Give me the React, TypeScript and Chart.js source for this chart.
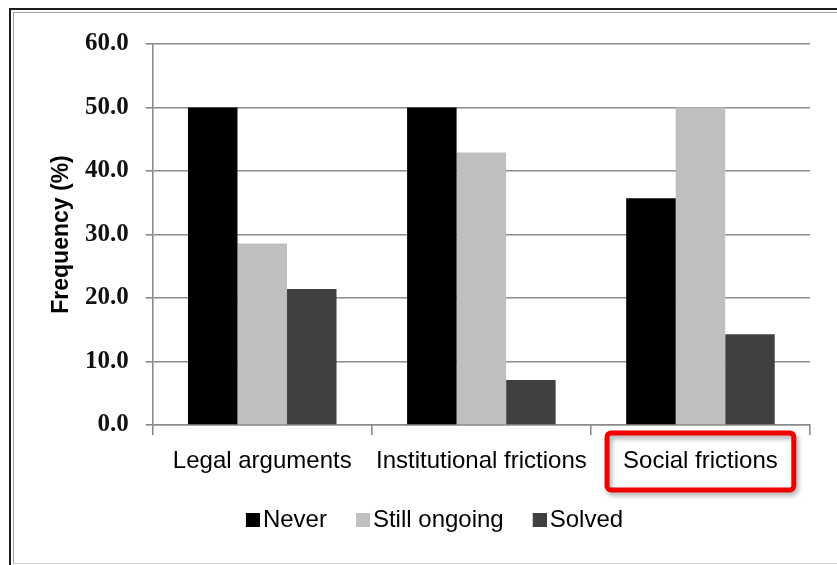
import React, { useEffect, useRef } from "react";
import { Chart, registerables } from "chart.js";

Chart.register(...registerables);

// Share of cases per outcome (%), one value per category
const categories = ["Legal arguments", "Institutional frictions", "Social frictions"];
const seriesNames = ["Never", "Still ongoing", "Solved"];
const never = [50.0, 50.0, 35.7];
const stillOngoing = [28.6, 42.9, 50.0];
const solved = [21.4, 7.1, 14.3];
const seriesColors = ["#000000", "#bfbfbf", "#404040"];
const yTicks = [0, 10, 20, 30, 40, 50, 60];
const highlightCategory = "Social frictions";

const LABEL_FONT = "'Liberation Sans', Arial, sans-serif";
const TICK_FONT = "'Liberation Serif', 'Times New Roman', serif";
const GRID = "#8a8a8a";

// Legend swatch: a 14px square placed at the right edge of a wider image,
// so that it sits close to its label text.
function makeSwatch(color: string): HTMLCanvasElement {
  const c = document.createElement("canvas");
  c.width = 20;
  c.height = 14;
  const g = c.getContext("2d")!;
  g.fillStyle = color;
  g.fillRect(6, 0, 14, 14);
  return c;
}

// Red rounded frame around one category label on the x axis
const highlightPlugin = {
  id: "highlightLabel",
  afterDraw(chart: any) {
    const xs = chart.scales.x;
    const idx = categories.indexOf(highlightCategory);
    if (idx < 0) return;
    const ctx = chart.ctx as CanvasRenderingContext2D;
    ctx.save();
    ctx.font = `24px ${LABEL_FONT}`;
    const w = ctx.measureText(highlightCategory).width;
    const cx = xs.getPixelForValue(idx);
    const cy = xs.top + 10 + 12 + (24 * 1.2) / 2;
    const bx = cx - w / 2 - 16;
    const by = cy - 28.5;
    const bw = w + 32;
    const bh = 57;
    ctx.shadowColor = "rgba(0,0,0,0.35)";
    ctx.shadowBlur = 5;
    ctx.shadowOffsetX = 2;
    ctx.shadowOffsetY = 3;
    ctx.strokeStyle = "#f20000";
    ctx.lineWidth = 5;
    ctx.beginPath();
    ctx.roundRect(bx, by, bw, bh, 4);
    ctx.stroke();
    ctx.restore();
  },
};

export default function App() {
  const canvasRef = useRef<HTMLCanvasElement | null>(null);

  useEffect(() => {
    document.body.style.margin = "0";
    const canvas = canvasRef.current;
    if (!canvas) return;
    const values = [never, stillOngoing, solved];
    const swatches = seriesColors.map(makeSwatch);

    const chart = new Chart(canvas, {
      type: "bar",
      data: {
        labels: categories,
        datasets: seriesNames.map((name, i) => ({
          label: name,
          data: values[i],
          backgroundColor: seriesColors[i],
          borderWidth: 0,
          categoryPercentage: 0.678,
          barPercentage: 1,
        })),
      },
      options: {
        animation: false,
        responsive: false,
        devicePixelRatio: 1,
        layout: { padding: { left: 62, right: 27, top: 44, bottom: 23 } },
        plugins: {
          tooltip: { enabled: false },
          legend: {
            position: "bottom",
            labels: {
              usePointStyle: true,
              boxWidth: 2,
              boxHeight: 14,
              padding: 32,
              color: "#000",
              font: { family: LABEL_FONT, size: 24 },
              generateLabels: (c: any) =>
                Chart.defaults.plugins.legend.labels
                  .generateLabels(c)
                  .map((item: any, i: number) => ({ ...item, pointStyle: swatches[i] })),
            },
          },
        },
        scales: {
          x: {
            grid: {
              display: true,
              drawOnChartArea: false,
              drawTicks: true,
              tickLength: 10,
              color: GRID,
              lineWidth: 1.6,
              offset: true,
            },
            border: { display: true, color: GRID, width: 1.6 },
            ticks: {
              autoSkip: false,
              maxRotation: 0,
              minRotation: 0,
              padding: 12,
              color: "#000",
              font: { family: LABEL_FONT, size: 24 },
            },
            afterFit: (scale: any) => {
              scale.height = 51;
            },
          },
          y: {
            min: 0,
            max: 60,
            afterBuildTicks: (scale: any) => {
              scale.ticks = yTicks.map((v) => ({ value: v }));
            },
            grid: {
              color: GRID,
              lineWidth: 1.6,
              drawTicks: true,
              tickLength: 7,
            },
            border: { display: true, color: GRID, width: 1.6 },
            ticks: {
              padding: 17,
              color: "#111",
              font: { family: TICK_FONT, size: 25, weight: "bold" },
              callback: (v: any) => Number(v).toFixed(1),
            },
            title: {
              display: true,
              text: "Frequency (%)",
              color: "#000",
              padding: { top: -14, bottom: 0 },
              font: { family: LABEL_FONT, size: 23, weight: "bold" },
            },
            afterFit: (scale: any) => {
              scale.width = 152.7 - 62;
            },
          },
        },
      },
      plugins: [highlightPlugin],
    });
    return () => chart.destroy();
  }, []);

  return (
    <div style={{ position: "relative", width: 837, height: 565, overflow: "hidden", background: "#fff" }}>
      <div
        style={{
          position: "absolute",
          left: 9,
          top: 8,
          width: 900,
          height: 600,
          borderTop: "2px solid #1c1c1c",
          borderLeft: "2px solid #1c1c1c",
        }}
      />
      <div
        style={{
          position: "absolute",
          left: 13,
          top: 12,
          width: 900,
          height: 550,
          borderTop: "1.5px solid #a0a0a0",
          borderLeft: "1.5px solid #a0a0a0",
          borderBottom: "1px solid #cfcfcf",
        }}
      />
      <canvas
        ref={canvasRef}
        width={837}
        height={565}
        style={{ position: "absolute", left: 0, top: 0, display: "block" }}
      />
    </div>
  );
}
